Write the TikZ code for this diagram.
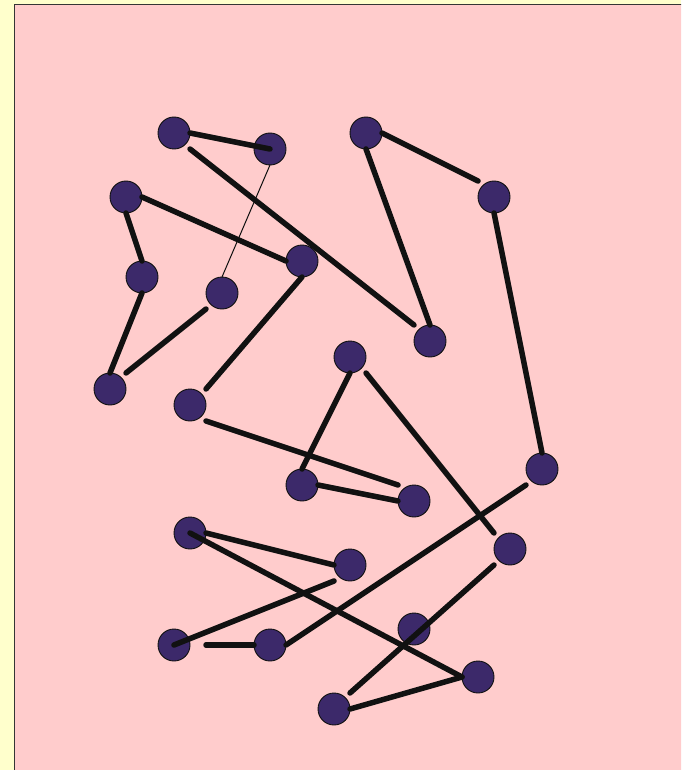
\documentclass[tikz,border=0pt]{standalone}
\usetikzlibrary{calc}
\definecolor{bgyellow}{RGB}{255,255,204}
\definecolor{panelpink}{RGB}{255,204,204}
\definecolor{nodepurple}{RGB}{60,41,106}
\definecolor{edgeblack}{RGB}{17,17,17}
\begin{document}
\begin{tikzpicture}[x=16pt,y=-16pt,
  vert/.style={circle,minimum size=32pt,inner sep=0pt,fill=nodepurple,draw=edgeblack,line width=0.9pt},
  thick edge/.style={draw=edgeblack,line width=5.5pt,line cap=round},
  thin edge/.style={draw=edgeblack,line width=1pt,line cap=round}]
\useasboundingbox (-0.875,-0.3125) rectangle (41.6875,47.8125);
\fill[bgyellow] (-0.875,-0.3125) rectangle (41.6875,47.8125);
\begin{scope}
\clip (-0.875,-0.3125) rectangle (41.6875,47.8125);
\draw[fill=panelpink,draw=edgeblack!85,line width=1pt] (0,0) rectangle (50,55);
\end{scope}
% nodes
\node[vert] (n1) at (10,8) {};
\node[vert] (n2) at (16,9) {};
\node[vert] (n3) at (22,8) {};
\node[vert] (n4) at (30,12) {};
\node[vert] (n5) at (7,12) {};
\node[vert] (n6) at (18,16) {};
\node[vert] (n7) at (8,17) {};
\node[vert] (n8) at (13,18) {};
\node[vert] (n9) at (26,21) {};
\node[vert] (n10) at (6,24) {};
\node[vert] (n11) at (21,22) {};
\node[vert] (n12) at (11,25) {};
\node[vert] (n13) at (18,30) {};
\node[vert] (n14) at (25,31) {};
\node[vert] (n15) at (33,29) {};
\node[vert] (n16) at (11,33) {};
\node[vert] (n17) at (21,35) {};
\node[vert] (n18) at (31,34) {};
\node[vert] (n19) at (10,40) {};
\node[vert] (n20) at (16,40) {};
\node[vert] (n21) at (25,39) {};
\node[vert] (n22) at (29,42) {};
\node[vert] (n23) at (20,44) {};
% edges
\draw[thick edge] ($(n1)+(1,0)$) -- (n2.center);
\draw[thick edge] ($(n1)+(1,1)$) -- ($(n9)+(-1,-1)$);
\draw[thin edge] ($(n2)+(0,1)$) -- ($(n8)+(0,-1)$);
\draw[thick edge] ($(n3)+(1,0)$) -- ($(n4)+(-1,-1)$);
\draw[thick edge] ($(n3)+(0,1)$) -- ($(n9)+(0,-1)$);
\draw[thick edge] ($(n4)+(0,1)$) -- ($(n15)+(0,-1)$);
\draw[thick edge] ($(n5)+(1,0)$) -- ($(n6)+(-1,0)$);
\draw[thick edge] ($(n5)+(0,1)$) -- ($(n7)+(0,-1)$);
\draw[thick edge] ($(n7)+(0,1)$) -- ($(n10)+(0,-1)$);
\draw[thick edge] ($(n8)+(-1,1)$) -- ($(n10)+(1,-1)$);
\draw[thick edge] ($(n6)+(0,1)$) -- ($(n12)+(1,-1)$);
\draw[thick edge] ($(n12)+(1,1)$) -- ($(n14)+(-1,-1)$);
\draw[thick edge] ($(n11)+(0,1)$) -- ($(n13)+(0,-1)$);
\draw[thick edge] ($(n13)+(1,0)$) -- ($(n14)+(-1,0)$);
\draw[thick edge] ($(n11)+(1,1)$) -- ($(n18)+(-1,-1)$);
\draw[thick edge] ($(n15)+(-1,1)$) -- ($(n20)+(1,0)$);
\draw[thick edge] ($(n16)+(1,0)$) -- ($(n17)+(-1,0)$);
\draw[thick edge] (n16.center) -- ($(n22)+(-1,0)$);
\draw[thick edge] ($(n17)+(-1,1)$) -- (n19.center);
\draw[thick edge] ($(n19)+(2,0)$) -- ($(n20)+(-1,0)$);
\draw[thick edge] ($(n18)+(-1,1)$) -- ($(n23)+(1,-1)$);
\draw[thick edge] ($(n23)+(1,0)$) -- ($(n22)+(-1,0)$);
\end{tikzpicture}
\end{document}
